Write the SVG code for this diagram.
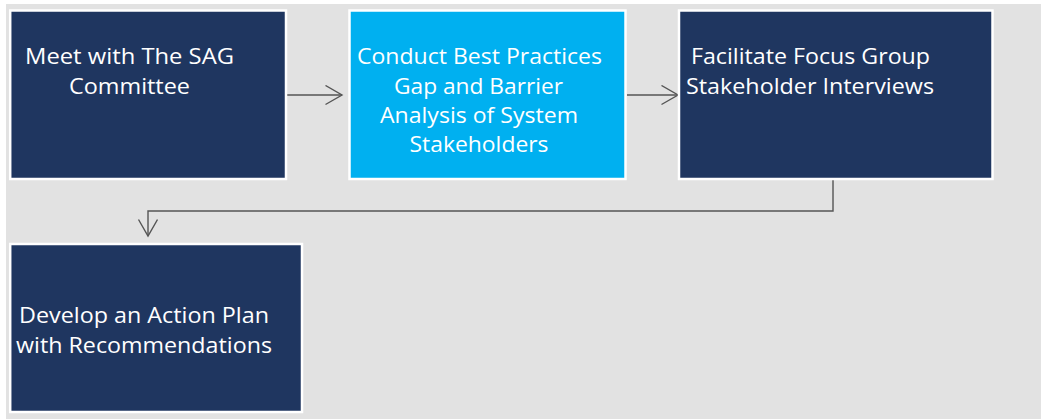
<svg xmlns="http://www.w3.org/2000/svg" width="1041" height="419" viewBox="0 0 1041 419">
<style>
.box{stroke:#ffffff;stroke-width:2.5}
.navy{fill:#1f3660}
.cyan{fill:#00b0f0}
.lbl{font-family:"Open Sans","Liberation Sans",sans-serif;font-size:22px;fill:#ffffff}
.conn{fill:none;stroke:#555555;stroke-width:1.4}
</style>
<defs>
<marker id="arr" markerUnits="userSpaceOnUse" markerWidth="22" markerHeight="24" refX="17" refY="10" orient="auto">
<path d="M0.5,0.5 L17,10 L0.5,19.5" fill="none" stroke="#555555" stroke-width="1.4"/>
</marker>
</defs>
<rect x="0" y="0" width="1041" height="419" fill="#ffffff"/>
<rect x="6" y="4" width="1035" height="415" fill="#e2e2e2"/>
<g id="connectors">
<line class="conn" x1="287" y1="95" x2="342" y2="95" marker-end="url(#arr)"/>
<line class="conn" x1="627" y1="95" x2="678" y2="95" marker-end="url(#arr)"/>
<polyline class="conn" points="833,180 833,211 148,211 148,236" marker-end="url(#arr)"/>
</g>
<g id="node1">
<rect class="box navy" x="10.2" y="10.5" width="275.8" height="168.5"/>
<text class="lbl"><tspan x="25" y="64" textLength="209" lengthAdjust="spacingAndGlyphs">Meet with The SAG</tspan><tspan x="69" y="94" textLength="121" lengthAdjust="spacingAndGlyphs">Committee</tspan></text>
</g>
<g id="node2">
<rect class="box cyan" x="349.5" y="10.5" width="276" height="168.5"/>
<text class="lbl"><tspan x="357" y="64" textLength="245" lengthAdjust="spacingAndGlyphs">Conduct Best Practices</tspan><tspan x="394" y="93.5" textLength="169" lengthAdjust="spacingAndGlyphs">Gap and Barrier</tspan><tspan x="380" y="122.7" textLength="198" lengthAdjust="spacingAndGlyphs">Analysis of System</tspan><tspan x="409.5" y="151.7" textLength="139" lengthAdjust="spacingAndGlyphs">Stakeholders</tspan></text>
</g>
<g id="node3">
<rect class="box navy" x="679" y="10.5" width="313.5" height="168.5"/>
<text class="lbl"><tspan x="691" y="63.5" textLength="239" lengthAdjust="spacingAndGlyphs">Facilitate Focus Group</tspan><tspan x="686" y="94.3" textLength="248" lengthAdjust="spacingAndGlyphs">Stakeholder Interviews</tspan></text>
</g>
<g id="node4">
<rect class="box navy" x="10.2" y="244" width="291.8" height="168"/>
<text class="lbl"><tspan x="19" y="323.3" textLength="250" lengthAdjust="spacingAndGlyphs">Develop an Action Plan</tspan><tspan x="16" y="353.3" textLength="256" lengthAdjust="spacingAndGlyphs">with Recommendations</tspan></text>
</g>
</svg>
